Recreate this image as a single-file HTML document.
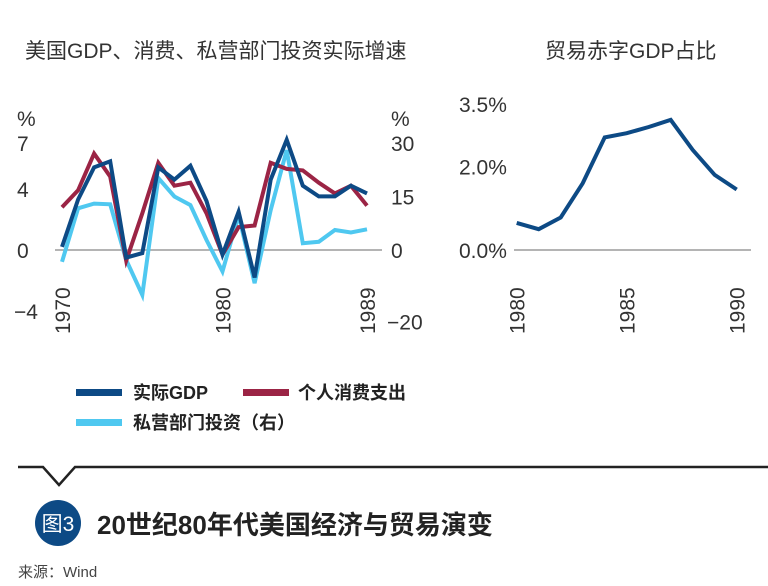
<!DOCTYPE html>
<html><head><meta charset="utf-8"><style>
body{margin:0;background:#fff;width:768px;height:586px;overflow:hidden;font-family:"Liberation Sans","Noto Sans CJK SC",sans-serif}
svg{position:absolute;left:0;top:0}
</style></head><body>
<svg width="768" height="586" font-family="Liberation Sans, Noto Sans CJK SC, sans-serif">
<text x="25" y="58" font-size="21" fill="#333">美国GDP、消费、私营部门投资实际增速</text>
<text x="545" y="58" font-size="21" fill="#333">贸易赤字GDP占比</text>
<g id="left"></g>
<g id="right"></g>
<g>
<rect x="76" y="389" width="46" height="7" fill="#0d4a85"/>
<text x="133" y="399" font-size="18" font-weight="bold" fill="#222">实际GDP</text>
<rect x="243" y="389" width="46" height="7" fill="#9b2445"/>
<text x="298" y="399" font-size="18" font-weight="bold" fill="#222">个人消费支出</text>
<rect x="76" y="419" width="46" height="7" fill="#4fc8f0"/>
<text x="133" y="429" font-size="18" font-weight="bold" fill="#222">私营部门投资（右）</text>
</g>
<polyline points="18,467 43,467 59,485 75,467 768,467" fill="none" stroke="#222" stroke-width="2.5"/>
<circle cx="58" cy="523" r="23" fill="#0d4a85"/>
<text x="58" y="531" font-size="21" fill="#fff" text-anchor="middle">图3</text>
<text x="97" y="534" font-size="26" font-weight="bold" fill="#222">20世纪80年代美国经济与贸易演变</text>
<text x="18" y="577" font-size="15" fill="#444">来源：Wind</text>
</svg>
<script>
const years=[1970,1971,1972,1973,1974,1975,1976,1977,1978,1979,1980,1981,1982,1983,1984,1985,1986,1987,1988,1989];
const gdp=[0.2,3.3,5.4,5.8,-0.5,-0.2,5.4,4.6,5.5,3.2,-0.3,2.5,-1.8,4.6,7.2,4.2,3.5,3.5,4.2,3.7];
const consumption=[2.8,3.9,6.3,4.8,-0.7,2.4,5.7,4.2,4.4,2.4,-0.3,1.5,1.6,5.7,5.3,5.2,4.4,3.7,4.2,2.9];
const investment=[-3.3,11.7,13,12.8,-2.8,-12.6,20.2,15,12.6,2.8,-6,9.8,-9.3,11.2,28,1.9,2.3,5.6,4.9,5.8];
const leftTicks=[7,4,0,-4];
const rightTicks=[30,15,0,-20];
const leftYearLabels=[1970,1980,1989];
const tradeYears=[1980,1981,1982,1983,1984,1985,1986,1987,1988,1989,1990];
const tradeDeficit=[0.65,0.5,0.78,1.6,2.7,2.8,2.95,3.12,2.4,1.8,1.45];
const tradeTicks=[3.5,2.0,0.0];
const tradeYearLabels=[1980,1985,1990];

const NS='http://www.w3.org/2000/svg';
function mk(tag,attrs,parent,text){const e=document.createElementNS(NS,tag);for(const k in attrs)e.setAttribute(k,attrs[k]);if(text!==undefined)e.textContent=text;parent.appendChild(e);return e;}
const L=document.getElementById('left');
const xL=y=>62+(y-1970)*(305/19);
const yL=v=>250-v*15.3;
const yR=v=>250-v*(107/30);
let g=mk('line',{x1:55,x2:382,y1:250,y2:250,stroke:'#888','stroke-width':1.2},L);


let t=mk('text',{x:17,y:126,'font-size':21,fill:'#333'},L,'%');


t=mk('text',{x:391,y:126,'font-size':21,fill:'#333'},L,'%');


leftTicks.forEach(v=>{const e=mk('text',{x:v<0?14:17,y:yL(v)+8,'font-size':21,fill:'#333'},L,v<0?'−'+(-v):String(v));

});
rightTicks.forEach(v=>{const e=mk('text',{x:v<0?387:391,y:yR(v)+8,'font-size':21,fill:'#333'},L,v<0?'−'+(-v):String(v));

});
leftYearLabels.forEach(y=>{const x=xL(y)+8;const e=mk('text',{x:x,y:334,'font-size':21,fill:'#333',transform:`rotate(-90 ${x} 334)`},L,String(y));

});
function line(par,xs,ys,xf,yf,color,name){const pts=xs.map((x,i)=>xf(x).toFixed(1)+','+yf(ys[i]).toFixed(1)).join(' ');
const p=mk('polyline',{points:pts,fill:'none',stroke:color,'stroke-width':4,'stroke-linejoin':'miter'},par);

}
line(L,years,investment,xL,yR,'#4fc8f0','investment-line');
line(L,years,consumption,xL,yL,'#9b2445','consumption-line');
line(L,years,gdp,xL,yL,'#0d4a85','gdp-line');

const R=document.getElementById('right');
const xT=y=>516.7+(y-1980)*22;
const yT=v=>250-v*41.7;
g=mk('line',{x1:514,x2:751,y1:250,y2:250,stroke:'#888','stroke-width':1.2},R);


tradeTicks.forEach(v=>{const e=mk('text',{x:459,y:yT(v)+8,'font-size':21,fill:'#333'},R,v.toFixed(1)+'%');

});
tradeYearLabels.forEach(y=>{const x=xT(y)+8;const e=mk('text',{x:x,y:334,'font-size':21,fill:'#333',transform:`rotate(-90 ${x} 334)`},R,String(y));

});
line(R,tradeYears,tradeDeficit,xT,yT,'#0d4a85','trade-deficit-line');
</script>
</body></html>
